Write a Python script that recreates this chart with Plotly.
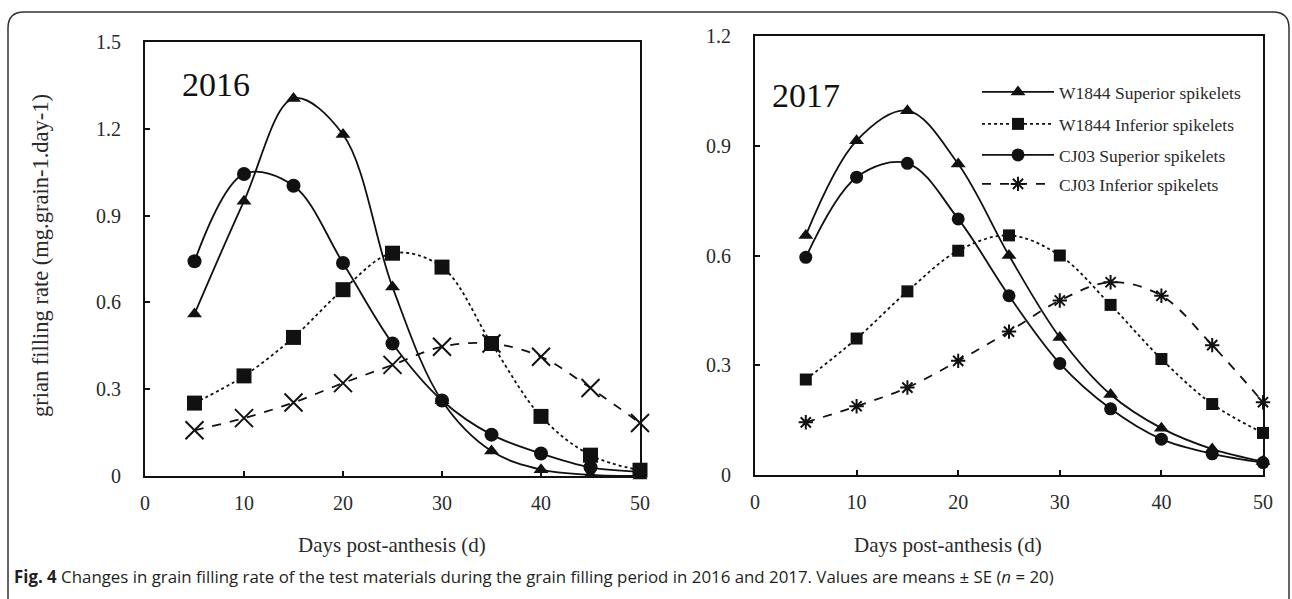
import plotly.graph_objects as go

days = [5, 10, 15, 20, 25, 30, 35, 40, 45, 50]

# 2016
w_sup_2016 = [0.56, 0.95, 1.305, 1.18, 0.653, 0.26, 0.086, 0.022, 0.004, 0.0]
w_inf_2016 = [0.252, 0.346, 0.479, 0.644, 0.77, 0.722, 0.458, 0.206, 0.072, 0.02]
c_sup_2016 = [0.742, 1.044, 1.003, 0.736, 0.458, 0.261, 0.143, 0.078, 0.03, 0.015]
c_inf_2016 = [0.158, 0.2, 0.254, 0.321, 0.384, 0.447, 0.458, 0.412, 0.304, 0.183]

# 2017
w_sup_2017 = [0.655, 0.914, 0.996, 0.85, 0.60, 0.376, 0.22, 0.128, 0.071, 0.037]
w_inf_2017 = [0.261, 0.373, 0.502, 0.613, 0.655, 0.60, 0.465, 0.317, 0.194, 0.115]
c_sup_2017 = [0.595, 0.814, 0.852, 0.70, 0.49, 0.305, 0.181, 0.098, 0.058, 0.034]
c_inf_2017 = [0.144, 0.188, 0.239, 0.312, 0.392, 0.477, 0.527, 0.49, 0.355, 0.199]

names = ["W1844 Superior spikelets", "W1844 Inferior spikelets",
         "CJ03 Superior spikelets", "CJ03 Inferior spikelets"]

W, H = 1292, 599
SERIF = "Liberation Serif, Times New Roman, serif"
BLACK = "#111111"
GREY = "#2a2a2a"

fig = go.Figure()

def add(x, y, name, dash, symbol, size, xa, ya, legend=None, mline=None):
    fig.add_trace(go.Scatter(
        x=x, y=y, name=name, mode="lines+markers",
        line=dict(color=BLACK, width=1.8, dash=dash, shape="spline", smoothing=1.0),
        marker=dict(symbol=symbol, size=size, color=BLACK,
                    line=dict(color=BLACK, width=mline if mline else 0)),
        xaxis=xa, yaxis=ya, cliponaxis=False,
        showlegend=legend is not None, legend=legend if legend else "legend",
    ))

# left panel
add(days, w_sup_2016, names[0], "solid", "triangle-up", 13, "x", "y")
add(days, w_inf_2016, names[1], "dot", "square", 15, "x", "y")
add(days, c_sup_2016, names[2], "solid", "circle", 14, "x", "y")
add(days, c_inf_2016, names[3], "dash", "x-thin-open", 18, "x", "y", mline=2)

# right panel
add(days, w_sup_2017, names[0], "solid", "triangle-up", 13, "x2", "y2", legend="legend")
add(days, w_inf_2017, names[1], "dot", "square", 12, "x2", "y2", legend="legend2")
add(days, c_sup_2017, names[2], "solid", "circle", 13, "x2", "y2", legend="legend3")
add(days, c_inf_2017, names[3], "dash", "asterisk-open", 12, "x2", "y2", legend="legend4", mline=2)

def px_x(p):
    return p / W

def px_y(p):
    return 1 - p / H

axis_common = dict(
    showline=True, mirror=True, linecolor=BLACK, linewidth=2,
    ticks="inside", ticklen=5, tickwidth=1.5, tickcolor=BLACK,
    showgrid=False, zeroline=False,
    tickfont=dict(family=SERIF, size=20, color=GREY),
    automargin=False,
)
xcommon = dict(range=[0, 50], dtick=10, ticklabelstandoff=8, **axis_common)
ycommon = dict(dtick=0.3, ticklabelstandoff=18, **axis_common)

fig.update_layout(
    width=W, height=H,
    margin=dict(l=0, r=0, t=0, b=0),
    paper_bgcolor="white", plot_bgcolor="white",
    template="none",
    xaxis=dict(domain=[px_x(145), px_x(640)], anchor="y", **xcommon),
    yaxis=dict(domain=[px_y(476), px_y(42)], range=[0, 1.5], anchor="x", **ycommon),
    xaxis2=dict(domain=[px_x(755), px_x(1263)], anchor="y2", **xcommon),
    yaxis2=dict(domain=[px_y(475), px_y(36)], range=[0, 1.2], anchor="x2", **ycommon),
)

leg_ys = [92, 124, 155, 184]
for i, ly in enumerate(leg_ys):
    key = "legend" if i == 0 else f"legend{i+1}"
    fig.update_layout({key: dict(
        x=px_x(977), y=px_y(ly), xanchor="left", yanchor="middle",
        bgcolor="rgba(0,0,0,0)", borderwidth=0, itemwidth=72,
        font=dict(family=SERIF, size=17.5, color=GREY),
    )})

annotations = [
    dict(text="2016", x=px_x(180), y=px_y(85), xanchor="left", yanchor="middle",
         font=dict(family=SERIF, size=34, color=BLACK)),
    dict(text="2017", x=px_x(770), y=px_y(95), xanchor="left", yanchor="middle",
         font=dict(family=SERIF, size=34, color=BLACK)),
    dict(text="grian filling rate (mg.grain-1.day-1)", x=px_x(40), y=px_y(256),
         xanchor="center", yanchor="middle", textangle=-90,
         font=dict(family=SERIF, size=22.5, color=GREY)),
    dict(text="Days post-anthesis (d)", x=px_x(392), y=px_y(545),
         xanchor="center", yanchor="middle",
         font=dict(family=SERIF, size=21, color=GREY)),
    dict(text="Days post-anthesis (d)", x=px_x(948), y=px_y(545),
         xanchor="center", yanchor="middle",
         font=dict(family=SERIF, size=21, color=GREY)),
    dict(text="<b>Fig. 4</b> Changes in grain filling rate of the test materials during the grain filling period in 2016 and 2017. Values are means ± SE (<i>n</i> = 20)",
         x=px_x(12), y=px_y(576), xanchor="left", yanchor="middle",
         font=dict(family="Open Sans, sans-serif", size=16.85, color="#231f20")),
]
for a in annotations:
    a.update(xref="paper", yref="paper", showarrow=False)
fig.update_layout(annotations=annotations)

# rounded outer frame
x0, y0, x1, y1 = px_x(8), px_y(12), px_x(1289), px_y(640)
rx, ry = 16 / W, 16 / H
path = (f"M {x0+rx},{y0} L {x1-rx},{y0} Q {x1},{y0} {x1},{y0-ry} "
        f"L {x1},{y1+ry} Q {x1},{y1} {x1-rx},{y1} L {x0+rx},{y1} Q {x0},{y1} {x0},{y1+ry} "
        f"L {x0},{y0-ry} Q {x0},{y0} {x0+rx},{y0} Z")
fig.add_shape(type="path", path=path, xref="paper", yref="paper",
              line=dict(color="#333333", width=1.5), layer="below")

fig.write_html("out.html")
